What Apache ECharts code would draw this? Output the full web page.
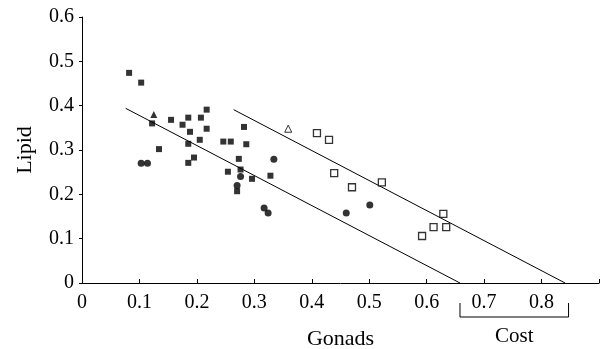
<!DOCTYPE html>
<html><head><meta charset="utf-8">
<script src="https://cdn.jsdelivr.net/npm/echarts@6/dist/echarts.min.js"></script>
<style>html,body{margin:0;padding:0;background:#fff}#c{width:611px;height:349px}</style>
</head><body><div id="c"></div>
<script>
const xTicks = [0,0.1,0.2,0.3,0.4,0.5,0.6,0.7,0.8,0.9];
const yTicks = [0,0.1,0.2,0.3,0.4,0.5,0.6];
const filledSquares = [[0.082,0.474],[0.103,0.452],[0.122,0.360],[0.155,0.368],[0.185,0.373],[0.207,0.373],[0.217,0.391],[0.175,0.357],[0.188,0.341],[0.217,0.348],[0.205,0.323],[0.185,0.314],[0.134,0.302],[0.195,0.283],[0.185,0.271],[0.246,0.319],[0.259,0.319],[0.282,0.352],[0.286,0.313],[0.273,0.280],[0.254,0.251],[0.276,0.256],[0.296,0.235],[0.328,0.242],[0.270,0.207]];
const filledCircles = [[0.103,0.270],[0.114,0.270],[0.334,0.279],[0.276,0.240],[0.270,0.220],[0.317,0.169],[0.324,0.158],[0.501,0.176],[0.460,0.158]];
const filledTriangles = [[0.125,0.380]];
const openSquares = [[0.409,0.338],[0.430,0.323],[0.439,0.248],[0.470,0.216],[0.522,0.227],[0.629,0.156],[0.612,0.126],[0.634,0.126],[0.592,0.106]];
const openTriangles = [[0.359,0.348]];
const lowerLine = [[0.076,0.394],[0.658,0]];
const upperLine = [[0.264,0.391],[0.841,0]];
const costRange = [0.658,0.847];

const font = 'Liberation Serif';
const chart = echarts.init(document.getElementById('c'));
const sq = (data, fill) => ({type:'scatter', data, symbol:'rect', symbolSize: fill?6:7,
  itemStyle:{color: fill?'#000':'#fff', borderColor:'#000', borderWidth: fill?0:1.3}, z:5});
chart.setOption({
  animation:false,
  grid:{left:82, right:12, top:17, bottom:66, containLabel:false, outerBoundsMode:'none'},
  xAxis:{type:'value', min:0, max:0.9, interval:0.1,
    name:'Gonads', nameLocation:'middle', nameGap:45,
    nameTextStyle:{fontFamily:font, fontSize:22, color:'#000'},
    axisLine:{lineStyle:{color:'#000', width:1}},
    axisTick:{inside:true, length:4, lineStyle:{color:'#000'}},
    axisLabel:{fontFamily:font, fontSize:20, color:'#000', margin:10,
      formatter:v=>{const i=xTicks.findIndex(t=>Math.abs(t-v)<1e-6); return (i<0||v>0.85)?'':(v===0?'0':String(xTicks[i]));}},
    splitLine:{show:false}},
  yAxis:{type:'value', min:0, max:0.6, interval:0.1,
    name:'Lipid', nameLocation:'middle', nameGap:46, nameRotate:90,
    nameTextStyle:{fontFamily:font, fontSize:22, color:'#000'},
    axisLine:{show:true, lineStyle:{color:'#000', width:1}},
    axisTick:{show:true, inside:false, length:3, lineStyle:{color:'#000'}},
    axisLabel:{fontFamily:font, fontSize:20, color:'#000', margin:8,
      formatter:v=>{const i=yTicks.findIndex(t=>Math.abs(t-v)<1e-6); return i<0?'':(v===0?'0':String(yTicks[i]));}},
    splitLine:{show:false}},
  series:[
    {type:'line', data:lowerLine, symbol:'none', lineStyle:{color:'#000', width:1}, z:2},
    {type:'line', data:upperLine, symbol:'none', lineStyle:{color:'#000', width:1}, z:2},
    sq(filledSquares, true),
    {type:'scatter', data:filledCircles, symbol:'circle', symbolSize:7, itemStyle:{color:'#000'}, z:5},
    {type:'scatter', data:filledTriangles, symbol:'triangle', symbolSize:7, itemStyle:{color:'#000'}, z:5},
    sq(openSquares, false),
    {type:'scatter', data:openTriangles, symbol:'triangle', symbolSize:7, itemStyle:{color:'#fff', borderColor:'#000', borderWidth:1}, z:5}
  ]
});
const a = chart.convertToPixel({gridIndex:0},[costRange[0],0]);
const b = chart.convertToPixel({gridIndex:0},[costRange[1],0]);
const yTop = a[1]+20, yBot = a[1]+34;
chart.setOption({graphic:[
  {type:'polyline', shape:{points:[[a[0],yTop],[a[0],yBot],[b[0],yBot],[b[0],yTop]]}, style:{stroke:'#000', lineWidth:1, fill:null}},
  {type:'text', x:(a[0]+b[0])/2, y:yBot+19, style:{text:'Cost', font:'21px "Liberation Serif"', fill:'#000', align:'center', verticalAlign:'middle'}}
]});
</script></body></html>
